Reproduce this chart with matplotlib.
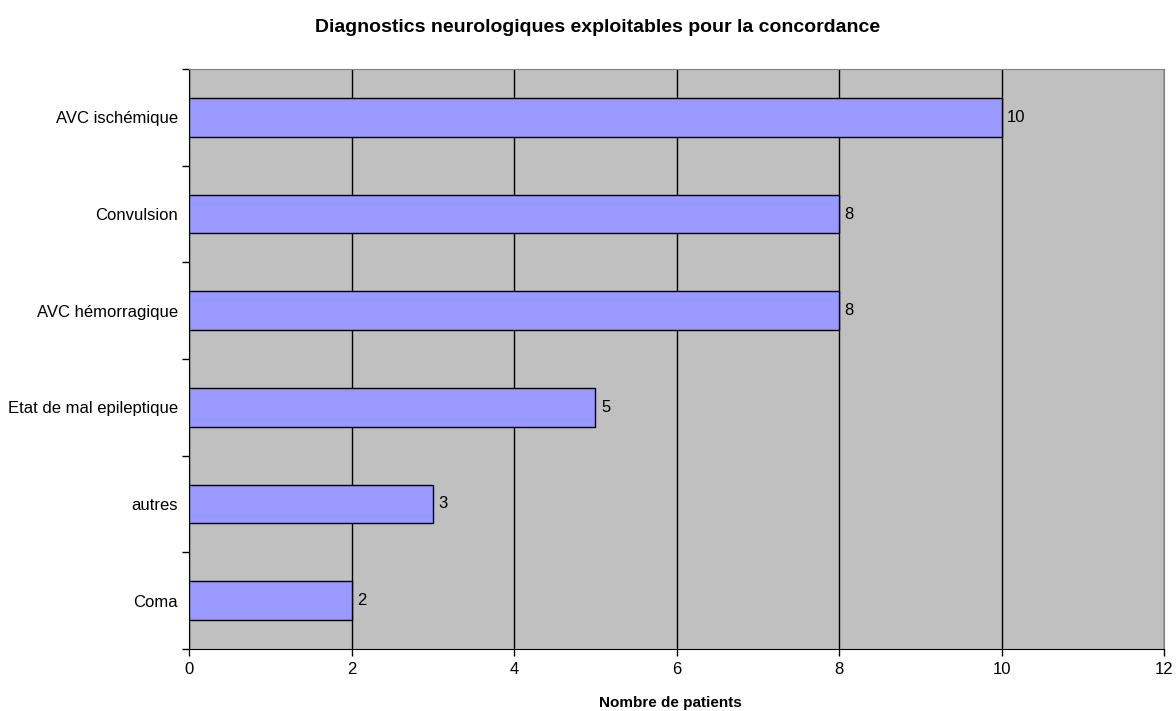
import numpy as np
import matplotlib
matplotlib.use('Agg')
from matplotlib import pyplot as plt

categories = ['Coma', 'autres', 'Etat de mal epileptique', 'AVC hémorragique',
              'Convulsion', 'AVC ischémique']
values = [2, 3, 5, 8, 8, 10]
xticks = [0, 2, 4, 6, 8, 10, 12]

plt.rcParams['font.family'] = ['Liberation Sans', 'DejaVu Sans']

fig = plt.figure(figsize=(11.76, 7.11), dpi=100)
ax = fig.add_axes([189/1176, 1-649/711, (1164-189)/1176, (649-69)/711])
ax.set_facecolor('#C0C0C0')

y = np.arange(len(categories))
ax.barh(y, values, height=0.4, color='#9999FF', edgecolor='black', linewidth=1, zorder=3)
for yi, v in zip(y, values):
  ax.text(v + 0.07, yi, str(v), va='center', ha='left', fontsize=12, zorder=4)

ax.set_xlim(0, 12)
ax.set_ylim(-0.5, len(categories) - 0.5)
ax.set_xticks(xticks)
ax.xaxis.grid(True, color='black', linewidth=1, zorder=1)
ax.set_axisbelow(True)

ax.set_yticks(y)
ax.set_yticklabels(categories, fontsize=12)
ax.set_yticks(np.arange(-0.5, len(categories), 1), minor=True)
ax.tick_params(axis='y', which='major', length=0, pad=8)
ax.tick_params(axis='y', which='minor', length=5, direction='out', width=1)
ax.tick_params(axis='x', length=5, direction='out', width=1, labelsize=12, pad=4)

for s in ['top', 'right']:
  ax.spines[s].set_color('#808080')
for s in ['left', 'bottom']:
  ax.spines[s].set_color('black')

ax.set_xlabel('Nombre de patients', fontsize=11, fontweight='bold', va='center')
ax.xaxis.set_label_coords((670 - 189) / (1164 - 189), -(703 - 649) / 580)
fig.suptitle('Diagnostics neurologiques exploitables pour la concordance',
             fontsize=14, fontweight='bold', x=598/1176, y=1-28/711, va='center')

fig.savefig('out.png', dpi=100)
